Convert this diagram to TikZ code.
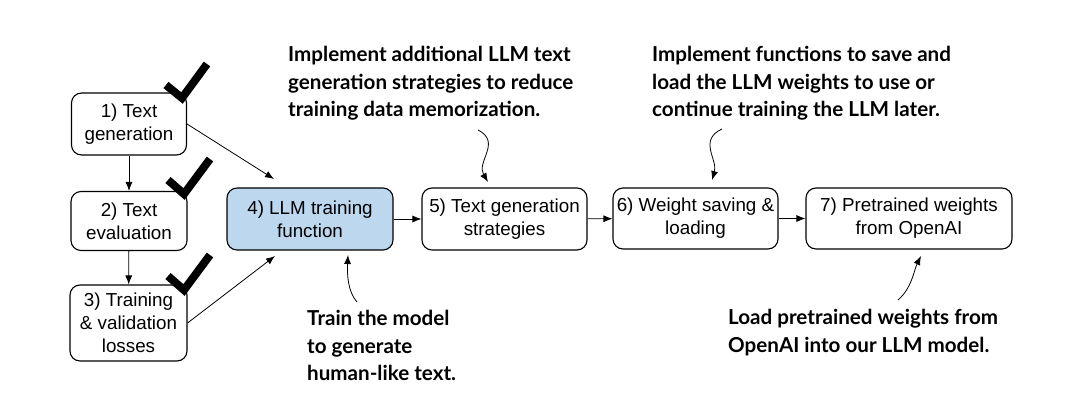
\documentclass[tikz,border=0pt]{standalone}
\usepackage{fontspec}
\setmainfont{Liberation Sans}
\newfontfamily\notefont{Lato}
\usetikzlibrary{arrows.meta,positioning}
\definecolor{llmblue}{HTML}{BDD7EE}

\begin{document}
\begin{tikzpicture}[x=1pt,y=-1pt]

\tikzset{
  block/.style={draw, rounded corners=10pt, line width=1.1pt,
    align=center, inner sep=0pt, font=\fontsize{18.8}{23}\selectfont},
  note/.style={anchor=north west, align=left, inner sep=0pt,
    font=\notefont\bfseries\fontsize{20.6}{27.5}\selectfont},
  arr/.style={-{Latex[length=9pt,width=7pt]}, line width=0.8pt},
  tick/.style={line width=8pt, line join=miter}
}

\useasboundingbox (0,0) rectangle (1088,402);

\node[block, minimum width=115pt, minimum height=62pt] (b1) at (129,124) {1) Text\\generation};
\node[block, minimum width=116pt, minimum height=59pt] (b2) at (129,221) {2) Text\\evaluation};
\node[block, minimum width=117pt, minimum height=76pt] (b3) at (128.5,323) {3) Training\\\& validation\\losses};
\node[block, fill=llmblue, minimum width=166pt, minimum height=62pt] (b4) at (310,219) {4) LLM training\\function};
\node[block, minimum width=165pt, minimum height=62pt] (b5) at (504.5,219) {5) Text generation\\strategies};
\node[block, minimum width=165pt, minimum height=61pt] (b6) at (695.5,218.5) {6) Weight saving \&\\loading};
\node[block, minimum width=206pt, minimum height=61pt] (b7) at (909,218.5) {7) Pretrained weights\\from OpenAI};

\draw[tick] (166,85) -- (182,98) -- (207,64);
\draw[tick] (168,180) -- (184,194) -- (210,159);
\draw[tick] (168,276) -- (184,290) -- (210,255);

\node[note] (n5) at (288,46) {Implement additional LLM text\\generation strategies to reduce\\training data memorization.};
\node[note] (n6) at (652,46) {Implement functions to save and\\load the LLM weights to use or\\continue training the LLM later.};
\node[note] (n4) at (307,310) {Train the model\\to generate\\human-like text.};
\node[note] (n7) at (728,309) {Load pretrained weights from\\OpenAI into our LLM model.};

\coordinate (c1) at (274,179);
\coordinate (c3) at (275,256);
\coordinate (s5) at (478,130);
\coordinate (e5) at (488,182);
\coordinate (s6) at (722,129);
\coordinate (e6) at (712,180);
\coordinate (s4) at (357,302);
\coordinate (e4) at (348,255);
\coordinate (s7) at (898,300);
\coordinate (e7) at (921,256);

\draw[arr] (b1.east) -- (c1);
\draw[arr] (b3.east) -- (c3);
\draw[arr] (b1) -- (b2);
\draw[arr] (b2) -- (b3);
\draw[arr] (b4) -- (b5);
\draw[arr] (b5) -- (b6);
\draw[arr] (b6) -- (b7);

\draw[arr] (s5) .. controls (502,142) and (476,162) .. (e5);
\draw[arr] (s6) .. controls (698,140) and (718,160) .. (e6);
\draw[arr] (s4) .. controls (348,292) and (347,275) .. (e4);
\draw[arr] (s7) .. controls (912,288) and (914,270) .. (e7);

\end{tikzpicture}
\end{document}
